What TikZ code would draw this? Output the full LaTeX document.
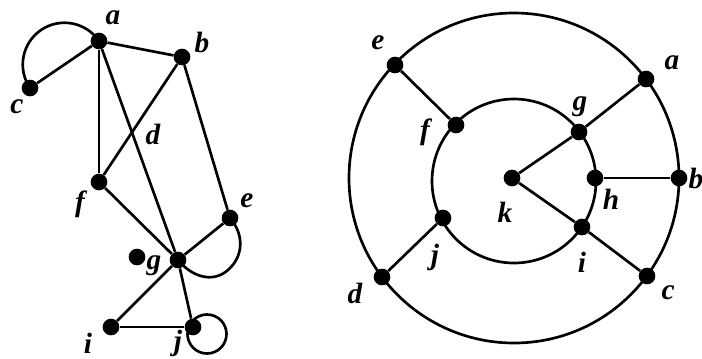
\documentclass[tikz,border=0pt]{standalone}
\usepackage{fontspec}
\setmainfont{Liberation Serif}
\begin{document}
\begin{tikzpicture}[x=0.75pt,y=-0.75pt,
  dot/.style={circle,fill=black,inner sep=0pt,minimum size=12.5pt},
  lbl/.style={font=\fontsize{22}{22}\selectfont\bfseries\itshape,inner sep=0pt},
  edge/.style={line width=2pt}]
\useasboundingbox (0,0) rectangle (702,358);
% ---------- left graph ----------
\node[dot] (a) at (99,41) {};
\node[dot] (b) at (182,57) {};
\node[dot] (c) at (30,88) {};
\node[dot] (e) at (230,218) {};
\node[dot] (f) at (99,182) {};
\node[dot] (hub) at (178,260) {};
\node[dot] (g) at (137,257) {};
\node[dot] (i) at (111,327) {};
\node[dot] (j) at (193,327) {};
\coordinate (ct) at (41,30);
\coordinate (et) at (228,270);
\coordinate (jc) at (207,334);
\draw[edge] (a) -- (c);
\draw[edge] (c.center) .. controls +(-13,-19) and +(-19,13) .. (ct) .. controls +(19,-13) and +(-13,-19) .. (a.center);
\draw[edge] (a) -- (b);
\draw[edge] (a) -- (f);
\draw[edge] (a) -- (hub);
\draw[edge] (b) -- (f);
\draw[edge] (b) -- (e);
\draw[edge] (f) -- (hub);
\draw[edge] (e) -- (hub);
\draw[edge] (e.center) .. controls +(14,16) and +(16,-14) .. (et) .. controls +(-16,14) and +(13,16) .. (hub.center);
\draw[edge] (hub) -- (i);
\draw[edge] (hub) -- (j);
\draw[edge] (i) -- (j);
\draw[edge] (jc) circle[radius=19.5];
\node[lbl] at (113,18) {a};
\node[lbl] at (202,42) {b};
\node[lbl] at (17,107) {c};
\node[lbl] at (153,134) {d};
\node[lbl] at (247,201) {e};
\node[lbl] at (80,204) {f};
\node[lbl] at (154,266) {g};
\node[lbl] at (88,343) {i};
\node[lbl] at (178,343) {j};
% ---------- right graph ----------
\coordinate (O) at (514,178);
\coordinate (I) at (514,181);
\draw[edge] (O) circle[radius=165];
\draw[edge] (I) circle[radius=82];
\node[dot] (re) at (395,65) {};
\node[dot] (ra) at (646,79) {};
\node[dot] (rb) at (679,178) {};
\node[dot] (rc) at (647,276) {};
\node[dot] (rd) at (382,277) {};
\node[dot] (rf) at (456,125) {};
\node[dot] (rg) at (579,132) {};
\node[dot] (rh) at (595,178) {};
\node[dot] (ri) at (582,227) {};
\node[dot] (rj) at (443,218) {};
\node[dot] (rk) at (512,178) {};
\draw[edge] (re) -- (rf);
\draw[edge] (ra) -- (rg);
\draw[edge] (rb) -- (rh);
\draw[edge] (rc) -- (ri);
\draw[edge] (rd) -- (rj);
\draw[edge] (rk) -- (rg);
\draw[edge] (rk) -- (ri);
\node[lbl] at (378,43) {e};
\node[lbl] at (672,63) {a};
\node[lbl] at (696,178) {b};
\node[lbl] at (668,293) {c};
\node[lbl] at (355,293) {d};
\node[lbl] at (425,132) {f};
\node[lbl] at (580,107) {g};
\node[lbl] at (611,199) {h};
\node[lbl] at (582,262) {i};
\node[lbl] at (435,257) {j};
\node[lbl] at (505,212) {k};
\end{tikzpicture}
\end{document}
